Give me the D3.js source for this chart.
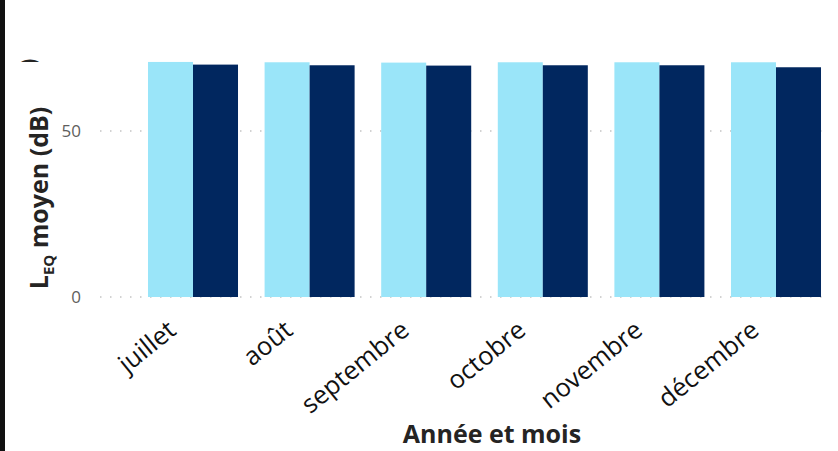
<!DOCTYPE html>
<html>
<head>
<meta charset="utf-8">
<script src="https://cdn.jsdelivr.net/npm/d3@7"></script>
<style>
  body { margin: 0; background: #fff; }
  svg { display: block; font-family: "Open Sans", sans-serif; }
</style>
</head>
<body>
<div id="chart"></div>
<script>
// data
const months = ["juillet", "août", "septembre", "octobre", "novembre", "décembre"];
const series = ["s1", "s2"];
const s1Values = [70.8, 70.7, 70.6, 70.7, 70.7, 70.7];
const s2Values = [70.0, 69.8, 69.7, 69.8, 69.8, 69.2];
const yTicks = [0, 50];

const colors = { s1: "#9ae5f9", s2: "#01275f" };

const width = 838;
const height = 451;

const dataset = months.map((m, i) => ({ month: m, s1: s1Values[i], s2: s2Values[i] }));

const svg = d3
  .select("#chart")
  .append("svg")
  .attr("width", width)
  .attr("height", height);

// black border on the left
svg.append("rect").attr("x", 0).attr("y", 0).attr("width", 5).attr("height", height).style("fill", "#111");

const xScale = d3
  .scaleBand()
  .domain(months)
  .range([134.7, 834.3])
  .paddingInner(0.228)
  .paddingOuter(0.114);

const xInner = d3.scaleBand().domain(series).range([0, xScale.bandwidth()]);

const yScale = d3.scaleLinear().domain([0, 80]).range([297, 31.4]);

// dotted gridlines
svg
  .selectAll(".grid")
  .data(yTicks)
  .enter()
  .append("line")
  .attr("x1", 100)
  .attr("x2", 822)
  .attr("y1", (d) => yScale(d))
  .attr("y2", (d) => yScale(d))
  .style("stroke", "#c4c4c4")
  .style("stroke-width", 1.5)
  .style("stroke-dasharray", "1.5,8.5");

// y tick labels
const yAxis = svg
  .append("g")
  .attr("transform", "translate(81,0)")
  .call(d3.axisLeft(yScale).tickValues(yTicks).tickSize(0).tickPadding(0));
yAxis.select(".domain").remove();
yAxis
  .selectAll("text")
  .style("font-family", "Open Sans, sans-serif")
  .style("font-size", "17px")
  .style("fill", "#605e5c");

// bars
const groups = svg
  .selectAll(".group")
  .data(dataset)
  .enter()
  .append("g")
  .attr("transform", (d) => `translate(${xScale(d.month)},0)`);

groups
  .selectAll("rect")
  .data((d) => series.map((k) => ({ key: k, value: d[k] })))
  .enter()
  .append("rect")
  .attr("x", (d) => xInner(d.key))
  .attr("y", (d) => yScale(d.value))
  .attr("width", xInner.bandwidth())
  .attr("height", (d) => yScale(0) - yScale(d.value))
  .style("fill", (d) => colors[d.key]);

// x tick labels, rotated
const xAxis = svg
  .append("g")
  .attr("transform", "translate(0,297)")
  .call(d3.axisBottom(xScale).tickSize(0).tickPadding(0));
xAxis.select(".domain").remove();
xAxis
  .selectAll("text")
  .attr("transform", "translate(-21,29) rotate(-39)")
  .attr("dy", "0.35em")
  .style("text-anchor", "end")
  .style("font-family", "Open Sans, sans-serif")
  .style("font-size", "25.5px")
  .style("fill", "#111");

// axis titles
svg
  .append("text")
  .attr("x", 492)
  .attr("y", 443)
  .style("text-anchor", "middle")
  .style("font-size", "25px")
  .style("font-weight", "bold")
  .style("fill", "#252423")
  .text("Année et mois");

const yTitle = svg
  .append("text")
  .attr("transform", "translate(48,198) rotate(-90)")
  .style("text-anchor", "middle")
  .style("font-size", "25px")
  .style("font-weight", "bold")
  .style("fill", "#252423");
yTitle.append("tspan").text("L");
yTitle.append("tspan").attr("dy", 6).style("font-size", "15px").text("EQ");
yTitle.append("tspan").attr("dy", -6).text(" moyen (dB)");

// clipped leftover paren at top-left
svg
  .append("clipPath")
  .attr("id", "clipTop")
  .append("rect")
  .attr("x", 0)
  .attr("y", 0)
  .attr("width", 80)
  .attr("height", 62);
svg
  .append("g")
  .attr("clip-path", "url(#clipTop)")
  .append("text")
  .attr("transform", "translate(37,67) rotate(-90)")
  .style("font-size", "25px")
  .style("font-weight", "bold")
  .style("fill", "#252423")
  .text(")");
</script>
</body>
</html>
